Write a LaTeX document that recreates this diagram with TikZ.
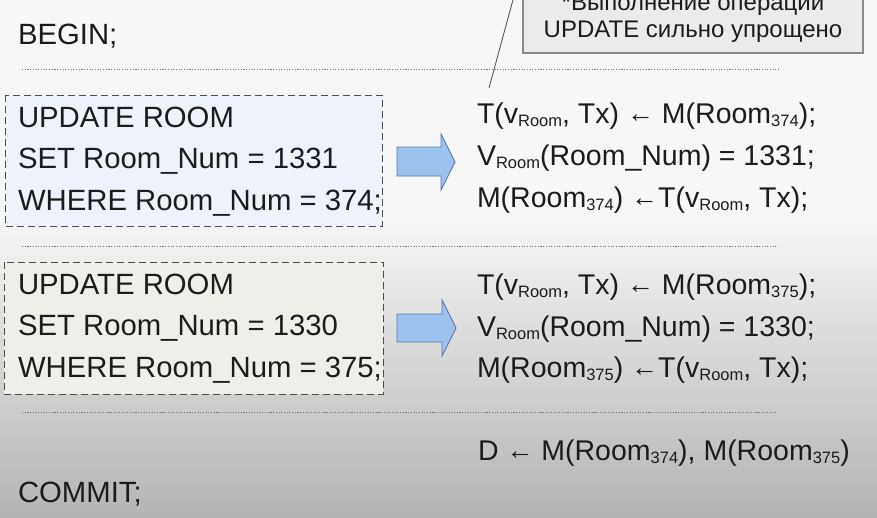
\documentclass[tikz,border=0pt]{standalone}
\usepackage{fontspec}
\setmainfont{Liberation Sans}
\definecolor{txt}{HTML}{1C1C1C}
\definecolor{bgtop}{HTML}{F7F7F8}
\definecolor{bgbot}{HTML}{B4B4B4}
\definecolor{boxone}{HTML}{EEF2FA}
\definecolor{boxtwo}{HTML}{EFEFEA}
\definecolor{arrfill}{HTML}{9CC3F0}
\definecolor{arrdraw}{HTML}{5A7AA8}
\definecolor{notefill}{HTML}{EBEBEB}
\definecolor{notedraw}{HTML}{8A8A8A}
\newcommand\sbs[1]{\raisebox{-3pt}{\fontsize{16.5}{16}\selectfont #1}}
\newcommand\larr{\raisebox{1pt}{\fontsize{27}{18}\selectfont ←}}
\begin{document}
\begin{tikzpicture}[x=1pt,y=-1pt,
  every node/.style={inner sep=0pt, outer sep=0pt, text=txt},
  line/.style={anchor=base west, font=\fontsize{29.3}{34}\selectfont},
  rline/.style={anchor=base west, font=\fontsize{28.5}{34}\selectfont},
  notetext/.style={anchor=base, font=\fontsize{24}{26}\selectfont},
  sep/.style={draw=black!55, line width=0.9pt, dash pattern=on 1.1pt off 1.6pt},
  sqlbox/.style={draw=black!70, line width=1pt, dash pattern=on 7pt off 4pt},
  blockarrow/.style={fill=arrfill, draw=arrdraw, line width=0.9pt, line join=miter}]
\useasboundingbox (0,0) rectangle (877,517);
\clip (0,0) rectangle (877,517);
% background
\fill[bgtop] (0,0) rectangle (877,517);
\shade[top color=bgtop, bottom color=bgbot] (0,215) rectangle (877,517);
% callout
\draw[fill=notefill, draw=notedraw, line width=1.1pt] (523,-60) rectangle (863,53);
\node[notetext] (note1) at (693,10) {*Выполнение операции};
\node[notetext] (note2) at (693,37) {UPDATE сильно упрощено};
\coordinate (ls) at (523,-37);
\coordinate (le) at (489,88);
\draw[black!70, line width=0.8pt] (ls) -- (le);
% separators
\draw[sep] (22,69) -- (779,69);
\draw[sep] (22,246) -- (778,246);
\draw[sep] (22,412) -- (778,412);
% SQL boxes
\draw[sqlbox, fill=boxone] (5,95) rectangle (382,226);
\draw[sqlbox, fill=boxtwo] (4,262) rectangle (383,394);
% block arrows
\draw[blockarrow] (397,147) -- (441,147) -- (441,134) -- (455,162) -- (441,190) -- (441,176) -- (397,176) -- cycle;
\draw[blockarrow] (397,314) -- (442,314) -- (442,300) -- (456,328) -- (442,356) -- (442,342) -- (397,342) -- cycle;
% texts
\node[line] (begin) at (18,44) {BEGIN;};
\node[line] (a1) at (18,127) {UPDATE ROOM};
\node[line] (a2) at (18,168) {SET Room\_Num = 1331};
\node[line] (a3) at (18,210) {WHERE Room\_Num = 374;};
\node[line] (b1) at (18,294) {UPDATE ROOM};
\node[line] (b2) at (18,335) {SET Room\_Num = 1330};
\node[line] (b3) at (18,377) {WHERE Room\_Num = 375;};
\node[rline] (r1) at (477,123) {T(v\sbs{Room}, Tx) \larr{} M(Room\sbs{374});};
\node[rline] (r2) at (477,165) {V\sbs{Room}(Room\_Num) = 1331;};
\node[rline] (r3) at (477,207) {M(Room\sbs{374}) \larr{}T(v\sbs{Room}, Tx);};
\node[rline] (s1) at (477,294) {T(v\sbs{Room}, Tx) \larr{} M(Room\sbs{375});};
\node[rline] (s2) at (477,336) {V\sbs{Room}(Room\_Num) = 1330;};
\node[rline] (s3) at (477,377) {M(Room\sbs{375}) \larr{}T(v\sbs{Room}, Tx);};
\node[rline] (d) at (478,460) {D \larr{} M(Room\sbs{374}), M(Room\sbs{375})};
\node[line] (commit) at (18,502) {COMMIT;};
\end{tikzpicture}
\end{document}
